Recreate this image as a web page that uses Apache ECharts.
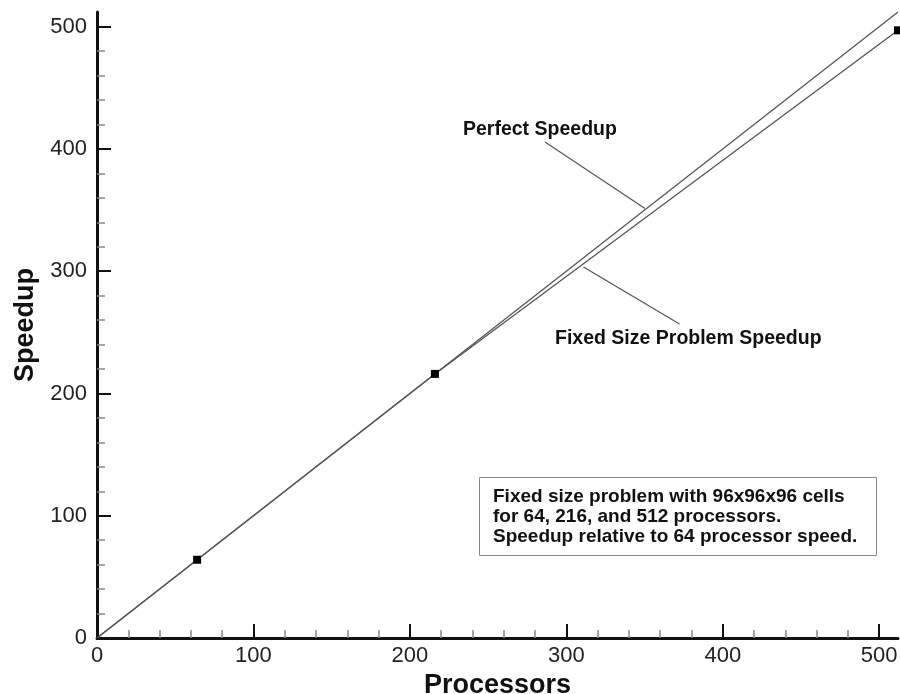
<!DOCTYPE html>
<html>
<head>
<meta charset="utf-8">
<script src="https://cdn.jsdelivr.net/npm/echarts@6/dist/echarts.min.js"></script>
<style>
html,body{margin:0;padding:0;background:#fff;}
#chart{width:900px;height:694px;}
</style>
</head>
<body>
<div id="chart"></div>
<script>
// ---- data ----
const perfectProcs = [0, 512];
const perfectSpeedup = [0, 512];
const processors = [0, 64, 216, 512];
const fixedSpeedup = [0, 64, 216, 497];
const showMarker = [false, true, true, true];

// ---- ticks ----
const xMajorTicks = [0, 100, 200, 300, 400, 500];
const xMinorTicks = [20, 40, 60, 80, 120, 140, 160, 180, 220, 240, 260, 280, 320, 340, 360, 380, 420, 440, 460, 480];
const yMajorTicks = [0, 100, 200, 300, 400, 500];
const yMinorTicks = [20, 40, 60, 80, 120, 140, 160, 180, 220, 240, 260, 280, 320, 340, 360, 380, 420, 440, 460, 480];
const axisMin = 0;
const axisMax = 512;

// ---- text ----
const xTitle = 'Processors';
const yTitle = 'Speedup';
const perfectLabel = 'Perfect Speedup';
const fixedLabel = 'Fixed Size Problem Speedup';
const noteLines = [
  'Fixed size problem with 96x96x96 cells',
  'for 64, 216, and 512 processors.',
  'Speedup relative to 64 processor speed.'
];

const FONT = '"Liberation Sans", Arial, Helvetica, sans-serif';
const chart = echarts.init(document.getElementById('chart'));

function majorAxis(name, ticks, isX) {
  return {
    type: 'value',
    min: axisMin, max: axisMax,
    name: name,
    nameLocation: 'middle',
    nameGap: isX ? 28 : 58,
    nameTextStyle: { fontFamily: FONT, fontWeight: 'bold', fontSize: 27, color: '#111' },
    axisLine: { show: true, onZero: false, lineStyle: { color: '#111', width: 3 } },
    axisTick: { show: true, inside: true, length: 14, customValues: ticks, lineStyle: { color: '#111', width: 2 } },
    axisLabel: { show: true, customValues: ticks, margin: isX ? 7 : 10, fontFamily: FONT, fontSize: 22, color: '#222' },
    splitLine: { show: false },
    minorTick: { show: false }
  };
}
function minorAxis(ticks) {
  return {
    type: 'value',
    min: axisMin, max: axisMax,
    axisLine: { show: false, onZero: false },
    axisTick: { show: true, inside: true, length: 8, customValues: ticks, lineStyle: { color: '#888', width: 1.5 } },
    axisLabel: { show: false },
    splitLine: { show: false }
  };
}

const xA = majorAxis(xTitle, xMajorTicks, true); xA.position = 'bottom';
const xB = minorAxis(xMinorTicks); xB.position = 'bottom';
const yA = majorAxis(yTitle, yMajorTicks, false); yA.position = 'left'; yA.nameRotate = 90;
const yB = minorAxis(yMinorTicks); yB.position = 'left';

const option = {
  backgroundColor: '#fff',
  animation: false,
  grid: { left: 97, right: 2, top: 12, bottom: 56, containLabel: false, outerBoundsMode: 'none' },
  xAxis: [xA, xB],
  yAxis: [yA, yB],
  series: [
    {
      type: 'line',
      data: perfectProcs.map((p, i) => [p, perfectSpeedup[i]]),
      symbol: 'none',
      lineStyle: { color: '#555', width: 1.3 },
      z: 3
    },
    {
      type: 'line',
      data: processors.map((p, i) => ({
        value: [p, fixedSpeedup[i]],
        symbol: showMarker[i] ? 'rect' : 'none'
      })),
      symbol: 'rect',
      symbolSize: 8,
      showAllSymbol: true,
      itemStyle: { color: '#000' },
      lineStyle: { color: '#555', width: 1.3 },
      z: 4
    }
  ],
  graphic: [
    { type: 'text', style: { x: 463, y: 130, text: perfectLabel, font: 'bold 19.5px ' + FONT, fill: '#111', align: 'left', verticalAlign: 'middle' } },
    { type: 'line', shape: { x1: 545, y1: 142, x2: 645, y2: 208.5 }, style: { stroke: '#555', lineWidth: 1.2 } },
    { type: 'text', style: { x: 555, y: 339, text: fixedLabel, font: 'bold 19.5px ' + FONT, fill: '#111', align: 'left', verticalAlign: 'middle' } },
    { type: 'line', shape: { x1: 583.5, y1: 267, x2: 679.5, y2: 324 }, style: { stroke: '#555', lineWidth: 1.2 } },
    { type: 'rect', shape: { x: 479.5, y: 477.5, width: 397, height: 78 }, style: { fill: '#fff', stroke: '#888', lineWidth: 1 } },
    { type: 'text', style: { x: 493, y: 487, text: noteLines.join('\n'), font: 'bold 19px ' + FONT, lineHeight: 20, fill: '#111', align: 'left', verticalAlign: 'top' } }
  ]
};
chart.setOption(option);
</script>
</body>
</html>
